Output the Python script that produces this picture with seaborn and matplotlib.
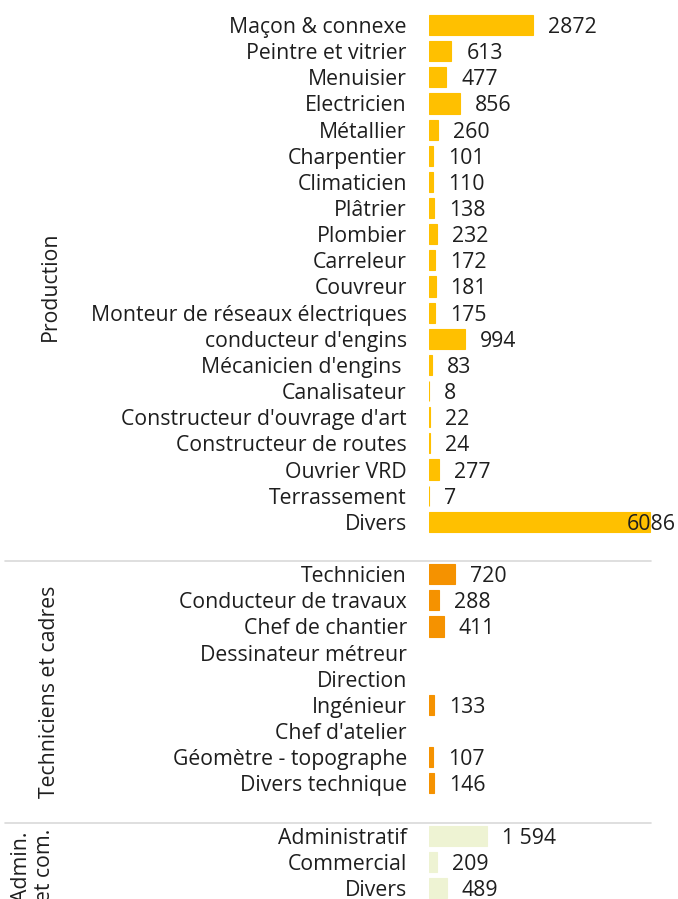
import numpy as np
import pandas as pd
import matplotlib.pyplot as plt
import matplotlib.transforms as mtransforms
import seaborn as sns

# categories and counts per group (None = no value shown)
prod_labels = ['Maçon & connexe', 'Peintre et vitrier', 'Menuisier', 'Electricien', 'Métallier',
               'Charpentier', 'Climaticien', 'Plâtrier', 'Plombier', 'Carreleur', 'Couvreur',
               'Monteur de réseaux électriques', "conducteur d'engins", "Mécanicien d'engins ",
               'Canalisateur', "Constructeur d'ouvrage d'art", 'Constructeur de routes',
               'Ouvrier VRD', 'Terrassement', 'Divers']
prod_values = [2872, 613, 477, 856, 260, 101, 110, 138, 232, 172, 181, 175, 994, 83,
               8, 22, 24, 277, 7, 6086]

tech_labels = ['Technicien', 'Conducteur de travaux', 'Chef de chantier', 'Dessinateur métreur',
               'Direction', 'Ingénieur', "Chef d'atelier", 'Géomètre - topographe', 'Divers technique']
tech_values = [720, 288, 411, None, None, 133, None, 107, 146]

admin_labels = ['Administratif', 'Commercial', 'Divers']
admin_values = [1594, 209, 489]

group_names = ['Production', 'Techniciens et cadres', 'Admin.\net com.']
group_colors = {'Production': '#FFC000', 'Techniciens et cadres': '#F59200', 'Admin.\net com.': '#EEF3D3'}
label_overrides = {1594: '1 594'}

sns.set_style('white')
plt.rcParams['font.family'] = ['Open Sans', 'DejaVu Sans']
text_color = '#1E1E1E'
fs = 15.3

# build table with one empty row between groups
rows = []
r = 0
for g, labs, vals in zip(group_names, [prod_labels, tech_labels, admin_labels],
                         [prod_values, tech_values, admin_values]):
    for lab, v in zip(labs, vals):
        rows.append({'row': r, 'label': lab, 'value': v, 'group': g})
        r += 1
    r += 1
df = pd.DataFrame(rows)
df['value'] = df['value'].astype(float)

W, H = 678, 899
fig = plt.figure(figsize=(W / 100, H / 100), dpi=100)
ax_left = 429
x_max = 6086 * (W - ax_left) / 221
ax = fig.add_axes([ax_left / W, 0, (W - ax_left) / W, 1])

bars = df.dropna(subset=['value'])
sns.barplot(data=bars, x='value', y='row', hue='group', palette=group_colors, orient='h',
            native_scale=True, width=0.77, dodge=False, legend=False, ax=ax,
            saturation=1)
for p in ax.patches:
    p.set_edgecolor(p.get_facecolor())
    p.set_linewidth(0.8)

row_px = 26.15
top_px = 25
ax.set_ylim((H - top_px) / row_px, -top_px / row_px)
ax.set_xlim(0, x_max)
ax.set_yticks(df['row'])
ax.set_yticklabels(df['label'], fontsize=fs, color=text_color)
ax.tick_params(axis='y', length=0, pad=16)
ax.set_xticks([])
ax.set_xlabel('')
ax.set_ylabel('')
for s in ax.spines.values():
    s.set_visible(False)

# value labels
px_to_data = x_max / (W - ax_left)
for _, rw in bars.iterrows():
    v = rw['value']
    txt = label_overrides.get(int(v), str(int(v)))
    x = v + 15 * px_to_data
    if x + 50 * px_to_data > x_max:
        ax.text(x_max - 2 * px_to_data, rw['row'], txt, ha='right', va='center_baseline',
                fontsize=fs, color=text_color)
    else:
        ax.text(x, rw['row'], txt, ha='left', va='center_baseline', fontsize=fs, color=text_color)

# separators and group titles
trans = mtransforms.blended_transform_factory(ax.transAxes, ax.transData)
ax_w = W - ax_left
x0 = (5 - ax_left) / ax_w
x1 = (651 - ax_left) / ax_w
group_rows = df.groupby('group', sort=False)['row'].agg(['min', 'max'])
for i, g in enumerate(group_names):
    lo, hi = group_rows.loc[g, 'min'], group_rows.loc[g, 'max']
    if i > 0:
        ax.plot([x0, x1], [lo - 0.5, lo - 0.5], color='#D9D9D9', lw=1.2,
                transform=trans, clip_on=False)
    if i < 2:
        mid = (lo + hi) / 2 + 0.5
        ax.text((50 - ax_left) / ax_w, mid, g, rotation=90, ha='center', va='center',
                fontsize=fs, color=text_color, transform=trans)
    else:
        ax.text((33 - ax_left) / ax_w, lo - 0.25, g, rotation=90, ha='center', va='top',
                fontsize=fs, color=text_color, transform=trans, linespacing=1.1,
                multialignment='left')

fig.savefig('out.png', dpi=100)
